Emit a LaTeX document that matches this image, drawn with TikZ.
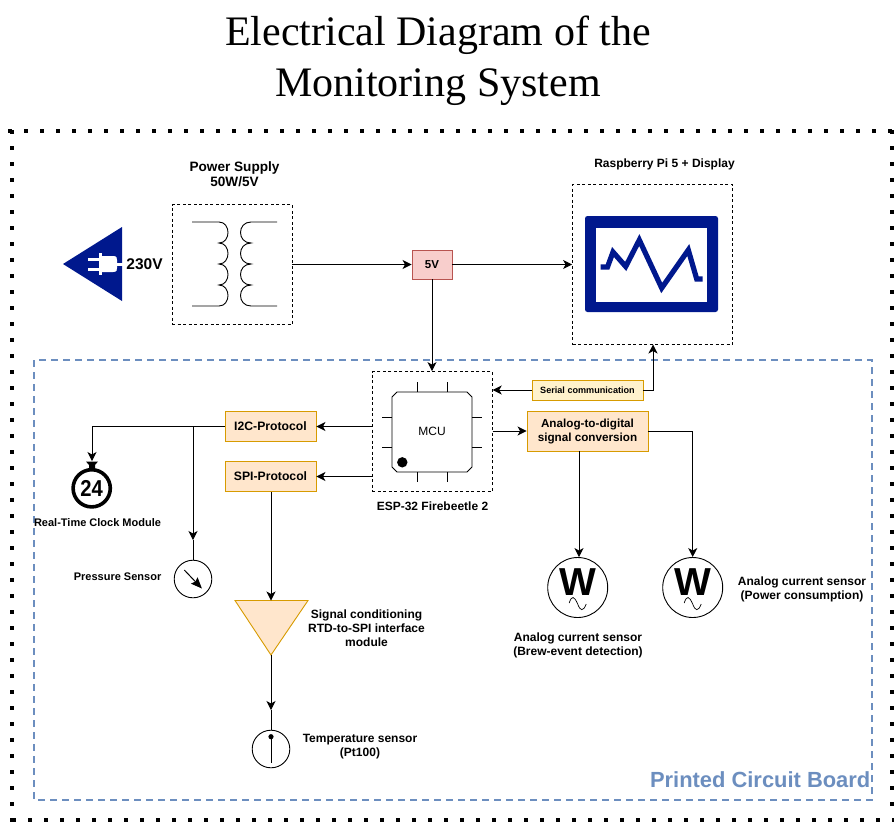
\documentclass[tikz,border=0pt]{standalone}
\usepackage{fontspec}
\setmainfont{Liberation Sans}
\newfontfamily\serifface{Liberation Serif}
\usetikzlibrary{arrows.meta}
\definecolor{navy}{HTML}{00188D}
\definecolor{orangefill}{HTML}{FFE6CC}
\definecolor{orangeline}{HTML}{D79B00}
\definecolor{redfill}{HTML}{F8CECC}
\definecolor{redline}{HTML}{B85450}
\definecolor{serialfill}{HTML}{FFF2CC}
\definecolor{pcbblue}{HTML}{6C8EBF}
\tikzset{
  conn/.style={line width=0.9pt,-{Stealth[length=9pt,width=9pt,inset=2.5pt]}},
  plainconn/.style={line width=0.9pt},
  dots/.style={line width=4pt,dash pattern=on 4pt off 12pt},
  dashbox/.style={draw=black,line width=0.8pt,dash pattern=on 3pt off 2.5pt,inner sep=0pt},
  procbox/.style={draw=orangeline,fill=orangefill,line width=0.9pt,inner sep=0pt,align=center,font=\fontsize{12.2}{14}\selectfont\bfseries},
  label/.style={inner sep=0pt,align=center,font=\fontsize{12}{14}\selectfont\bfseries},
  smalllabel/.style={inner sep=0pt,align=center,font=\fontsize{11}{14}\selectfont\bfseries},
  gauge/.style={draw=black,circle,line width=0.9pt,inner sep=0pt,fill=white},
}
\begin{document}
\begin{tikzpicture}[x=1pt,y=-1pt,line join=miter]
\useasboundingbox (0,0) rectangle (896,825);
% title
\node[inner sep=0pt,align=center,font=\fontsize{42}{51}\selectfont\serifface] (title) at (438,60.5) {Electrical Diagram of the\\Monitoring System};
% outer and PCB borders
\draw[dots] (8,131) -- (892,131);
\draw[dots] (12.3,130) -- (12.3,822);
\draw[dots] (12,820.3) -- (894,820.3);
\draw[dots] (892.3,130) -- (892.3,806);
\draw[draw=pcbblue,line width=1.7pt,dash pattern=on 7pt off 5pt] (34.3,360) rectangle (871.7,800.3);
\node[inner sep=0pt,anchor=east,text=pcbblue,font=\fontsize{21.9}{24}\selectfont\bfseries] (pcb) at (870.5,780) {Printed Circuit Board};
% mains plug
\fill[navy] (63,264) -- (122,227) -- (122,301) -- cycle;
\fill[white] (100,256) -- (113,256) .. controls (117,256) and (117,258) .. (117,260) -- (117,268) .. controls (117,270) and (117,272) .. (113,272) -- (100,272) -- cycle;
\fill[white] (99,253) rectangle (102,275);
\fill[white] (88,257.5) rectangle (100,260.5);
\fill[white] (88,267.5) rectangle (100,270.5);
\fill[white] (116,262.5) rectangle (123,265.5);
\node[inner sep=0pt,font=\fontsize{15.5}{18}\selectfont\bfseries] (v230) at (144.5,264) {230V};
% power supply
\node[dashbox,minimum width=120pt,minimum height=120pt] (psu) at (232,264.5) {};
\node[inner sep=0pt,align=center,font=\fontsize{13.6}{15}\selectfont\bfseries] (psulabel) at (234.5,174.5) {Power Supply\\50W/5V};
\draw[line width=0.9pt] (192,222) -- (219,222)
  .. controls (231,222) and (231,243) .. (219,243)
  .. controls (231,243) and (231,264) .. (219,264)
  .. controls (231,264) and (231,285) .. (219,285)
  .. controls (231,285) and (231,306) .. (219,306) -- (192,306);
\draw[line width=0.9pt] (277,222) -- (251,222)
  .. controls (237,222) and (237,243) .. (251,243)
  .. controls (237,243) and (237,264) .. (251,264)
  .. controls (237,264) and (237,285) .. (251,285)
  .. controls (237,285) and (237,306) .. (251,306) -- (277,306);
% 5V
\node[draw=redline,fill=redfill,line width=0.9pt,inner sep=0pt,minimum width=40pt,minimum height=29pt,font=\fontsize{11.5}{14}\selectfont\bfseries] (five) at (432,264.5) {5V};
% Raspberry Pi
\node[dashbox,minimum width=160pt,minimum height=160pt] (pi) at (652.5,264.5) {};
\node[label] (pilabel) at (664.5,164.2) {Raspberry Pi 5 + Display};
\fill[navy,rounded corners=2.5pt] (585,216) rectangle (718,312);
\fill[white] (596,227.7) rectangle (706.7,301.7);
\draw[navy,line width=5.2pt,line cap=butt] (600.7,267) -- (607.5,267) -- (613,252) -- (625.7,266.5) -- (639.3,240) -- (661.7,288) -- (688.3,250) -- (696.7,279) -- (702.7,279);
% MCU
\node[dashbox,minimum width=120pt,minimum height=120pt] (mcu) at (432.3,431.5) {};
\draw[line width=0.9pt] (397,392) -- (467,392) -- (472,397) -- (472,467) -- (467,472) -- (397,472) -- (392,467) -- (392,397) -- cycle;
\foreach \p in {417,447} {
  \draw[line width=0.9pt] (\p,382) -- (\p,392);
  \draw[line width=0.9pt] (\p,472) -- (\p,482);
  \draw[line width=0.9pt] (382,\p) -- (392,\p);
  \draw[line width=0.9pt] (472,\p) -- (482,\p);
}
\fill (402.3,462.3) circle (5.2pt);
\node[inner sep=0pt,font=\fontsize{12}{14}\selectfont] (mcutext) at (432,431.5) {MCU};
\node[label] (esp) at (432.5,506) {ESP-32 Firebeetle 2};
% process boxes
\node[procbox,minimum width=91pt,minimum height=30pt] (i2c) at (270.5,426.5) {I2C-Protocol};
\node[procbox,minimum width=91pt,minimum height=30pt] (spi) at (270.5,476.5) {SPI-Protocol};
\node[procbox,minimum width=121pt,minimum height=40pt,font=\fontsize{11.7}{14}\selectfont\bfseries] (adc) at (587.5,431) {Analog-to-digital\\signal conversion};
\node[draw=orangeline,fill=serialfill,line width=0.9pt,inner sep=0pt,minimum width=111pt,minimum height=20pt,font=\fontsize{9.1}{11}\selectfont\bfseries] (serial) at (587.5,390) {Serial communication};
% clock
\node[draw=black,line width=3.6pt,circle,inner sep=0pt,minimum size=37.2pt,fill=white] (clock) at (91.7,488.3) {};
\fill (86,461.5) -- (98,461.5) -- (95,465) -- (95,469) -- (89,469) -- (89,465) -- cycle;
\node[inner sep=0pt,xscale=0.88,font=\fontsize{23}{26}\selectfont\bfseries] (clocktext) at (91.7,488.5) {24};
\node[smalllabel] (clocklabel) at (97.5,523) {Real-Time Clock Module};
% pressure
\node[gauge,minimum size=37.6pt] (press) at (193,579) {};
\draw[line width=1pt,-{Stealth[length=11pt,width=9pt,inset=1.5pt]}] (184.3,570) -- (201.9,588.5);
\node[smalllabel,anchor=east] (presslabel) at (161.5,577) {Pressure Sensor};
% amplifier
\path[draw=orangeline,fill=orangefill,line width=0.9pt] (235,600.5) -- (308,600.5) -- (271,655) -- cycle;
\coordinate (amptop) at (271,600.5);
\coordinate (ampbot) at (271,655);
\node[label] (amplabel) at (366.5,628) {Signal conditioning\\RTD-to-SPI interface\\module};
% temperature
\node[gauge,minimum size=37.6pt] (temp) at (271,749) {};
\fill (271,736.7) circle (2.6pt);
\draw[line width=1pt] (271,736.7) -- (271,763);
\node[label] (templabel) at (360,746.5) {Temperature sensor\\(Pt100)};
% wattmeters
\foreach \n/\cx in {wa/577.7,wb/692.7} {
  \node[gauge,minimum size=60pt] (\n) at (\cx,587.5) {};
  \node[inner sep=0pt,font=\fontsize{39}{42}\selectfont\bfseries] (\n text) at (\cx,582.5) {W};
  \begin{scope}[shift={(\cx,604)}]
    \draw[line width=0.7pt] (-8.5,-1) .. controls (-6,-9) and (-3.5,-8) .. (0,0) .. controls (2.5,7) and (5.5,8) .. (8.5,0);
  \end{scope}
}
\node[label] (walabel) at (578,645) {Analog current sensor\\(Brew-event detection)};
\node[label] (wblabel) at (802,589) {Analog current sensor\\(Power consumption)};
% connectors
\coordinate (pidock) at (653,344.5);
\coordinate (adcdown) at (579,451);
\coordinate (branch) at (193,426.5);
\coordinate (clocktop) at (92,461);
\coordinate (pressmid) at (193,540);
\coordinate (tempmid) at (271,710);
\draw[conn] (psu.east) -- (five.west);
\draw[conn] (five.east) -- (pi.west);
\draw[conn] (five.south) -- (five.south |- mcu.north);
\draw[conn] (serial.west) -- (serial.west -| mcu.east);
\draw[conn] (serial.east) -| (pidock);
\draw[conn] (mcu.west |- i2c.east) -- (i2c.east);
\draw[conn] (mcu.west |- spi.east) -- (spi.east);
\draw[conn] (mcu.east |- adc.west) -- (adc.west);
\draw[conn] (adcdown) -- (adcdown |- wa.north);
\draw[conn] (adc.east) -| (wb.north);
\draw[conn] (i2c.west) -| (clocktop);
\draw[conn] (branch) -- (pressmid);
\draw[plainconn] (pressmid) -- (press.north);
\draw[conn] (amptop |- spi.south) -- (amptop);
\draw[conn] (ampbot) -- (tempmid);
\draw[plainconn] (tempmid) -- (temp.north);
\end{tikzpicture}
\end{document}
